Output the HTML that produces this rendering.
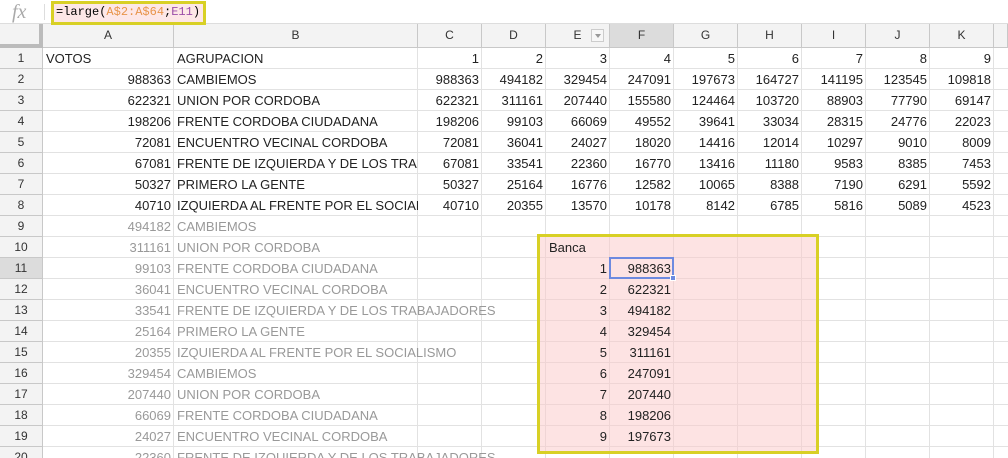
<!DOCTYPE html>
<html><head><meta charset="utf-8">
<style>
html,body{margin:0;width:1008px;height:458px;overflow:hidden}
body{background:#fff;font-family:"Liberation Sans",Arial,sans-serif;font-size:13px;position:relative}
#grid{position:absolute;left:0;top:0;width:1008px;height:458px;overflow:hidden}
.a{position:absolute;box-sizing:border-box}
.c{position:absolute;box-sizing:border-box;height:21px;line-height:22px;white-space:nowrap;padding:0 3px;color:#222}
.r{text-align:right}
.g{color:#999}
.clip{overflow:hidden}
.h{position:absolute;box-sizing:border-box;background:#f3f3f3;color:#333;text-align:center;font-size:12px;border-right:1px solid #c8c8c8;border-bottom:1px solid #c8c8c8}
</style></head><body>
<div id="grid"></div>
<div class="a" style="left:0;top:0;width:1008px;height:24px;border-bottom:1px solid #ddd"></div>
<div class="a" style="left:12px;top:0;height:24px;line-height:24px;font-family:'Liberation Serif',serif;font-style:italic;font-size:20px;color:#aaa">fx</div>
<div class="a" style="left:44px;top:4px;width:1px;height:16px;background:#ddd"></div>
<div class="a" style="left:51px;top:1px;width:155px;height:24px;border:3px solid #d8d025;background:#fde7e7;font-family:'Liberation Mono',monospace;font-size:12px;line-height:17px;padding-left:2px;white-space:nowrap;overflow:hidden">=large(<span style="color:#e8944a">A$2:A$64</span>;<span style="color:#9b4ea8">E11</span>)</div>
<script>
const g=document.getElementById('grid');
const colX=[43,174,418,482,546,610,674,738,802,866,930,994,1008];
const colN=['A','B','C','D','E','F','G','H','I','J','K','L'];
const top0=48,rh=21;
function el(cls,x,y,w,h,txt,name,inter){const d=document.createElement('div');d.className=cls;d.style.left=x+'px';d.style.top=y+'px';d.style.width=w+'px';if(h)d.style.height=h+'px';if(txt!==undefined)d.textContent=txt;


g.appendChild(d);return d;}
for(let i=0;i<colX.length-1;i++){const l=el('a',colX[i]-1,top0,1,410,undefined,'grid-col-line',false);l.style.background='#e2e2e2';}
for(let r=0;r<20;r++){const l=el('a',43,top0+(r+1)*rh-1,965,1,undefined,'grid-row-line',false);l.style.background='#e2e2e2';}
const ch=el('h',0,24,43,24,'','header-corner',false);ch.style.borderRight='4px solid #bbb';ch.style.borderBottom='4px solid #bbb';
for(let i=0;i<colN.length;i++){const d=el('h',colX[i],24,colX[i+1]-colX[i],24,colN[i],'column-header-'+colN[i].toLowerCase(),true);d.style.lineHeight='23px';d.style.overflow='hidden';if(colN[i]==='F')d.style.background='#dcdcdc';if(colN[i]==='L')d.textContent='';}
const fi=el('a',591,29,13,13,'','filter-icon',true);fi.style.border='1px solid #ccc';fi.style.background='#f7f7f7';fi.innerHTML='<div style="margin:4px 0 0 3px;width:0;height:0;border-left:3px solid transparent;border-right:3px solid transparent;border-top:4px solid #999"></div>';
for(let r=1;r<=20;r++){const d=el('h',0,top0+(r-1)*rh,43,rh,String(r),'row-header-'+r,true);d.style.lineHeight='21px';d.style.fontSize='12px';if(r===11)d.style.background='#dcdcdc';}
const votos=[988363,622321,198206,72081,67081,50327,40710];
const partidos=['CAMBIEMOS','UNION POR CORDOBA','FRENTE CORDOBA CIUDADANA','ENCUENTRO VECINAL CORDOBA','FRENTE DE IZQUIERDA Y DE LOS TRABAJADORES','PRIMERO LA GENTE','IZQUIERDA AL FRENTE POR EL SOCIALISMO'];
const lower=[[494182,0],[311161,1],[99103,2],[36041,3],[33541,4],[25164,5],[20355,6],[329454,0],[207440,1],[66069,2],[24027,3],[22360,4]];
const banca=[988363,622321,494182,329454,311161,247091,207440,198206,197673];
function cy(r){return top0+(r-1)*rh;}
el('c',43,cy(1),131,0,'VOTOS','header-votos',true);
el('c',174,cy(1),244,0,'AGRUPACION','header-agrupacion',true);
for(let k=1;k<=9;k++)el('c r',colX[k+1],cy(1),64,0,String(k),'divisor-'+k,true);
votos.forEach((v,i)=>{const r=i+2;
el('c r',43,cy(r),131,0,String(v),'votos-'+r,true);
el('c clip',174,cy(r),244,0,partidos[i],'agrupacion-'+r,true);
for(let k=1;k<=9;k++)el('c r',colX[k+1],cy(r),64,0,String(Math.round(v/k)),'cociente-'+r+'-'+k,true);});
lower.forEach((p,i)=>{const r=i+9;
el('c r g',43,cy(r),131,0,String(p[0]),'votos-'+r,true);
el('c g',174,cy(r),400,0,partidos[p[1]],'agrupacion-'+r,true);});
const box=el('a',537,234,282,220,undefined,'highlight-range',false);box.style.background='rgba(252,200,200,0.5)';box.style.border='3px solid #d8d025';
el('c',546,cy(10),100,0,'Banca','banca-label',true);
banca.forEach((v,i)=>{const r=11+i;
el('c r',546,cy(r),64,0,String(i+1),'banca-'+(i+1),true);
el('c r',610,cy(r),64,0,String(v),'banca-valor-'+(i+1),true);});
const sel=el('a',609,cy(11)-1,65,22,undefined,'selected-cell-f11',true);sel.style.border='2px solid #6d8ae0';
const hd=el('a',670,275,6,6,undefined,'fill-handle',true);hd.style.background='#6d8ae0';hd.style.border='1px solid #fff';
</script>
</body></html>
